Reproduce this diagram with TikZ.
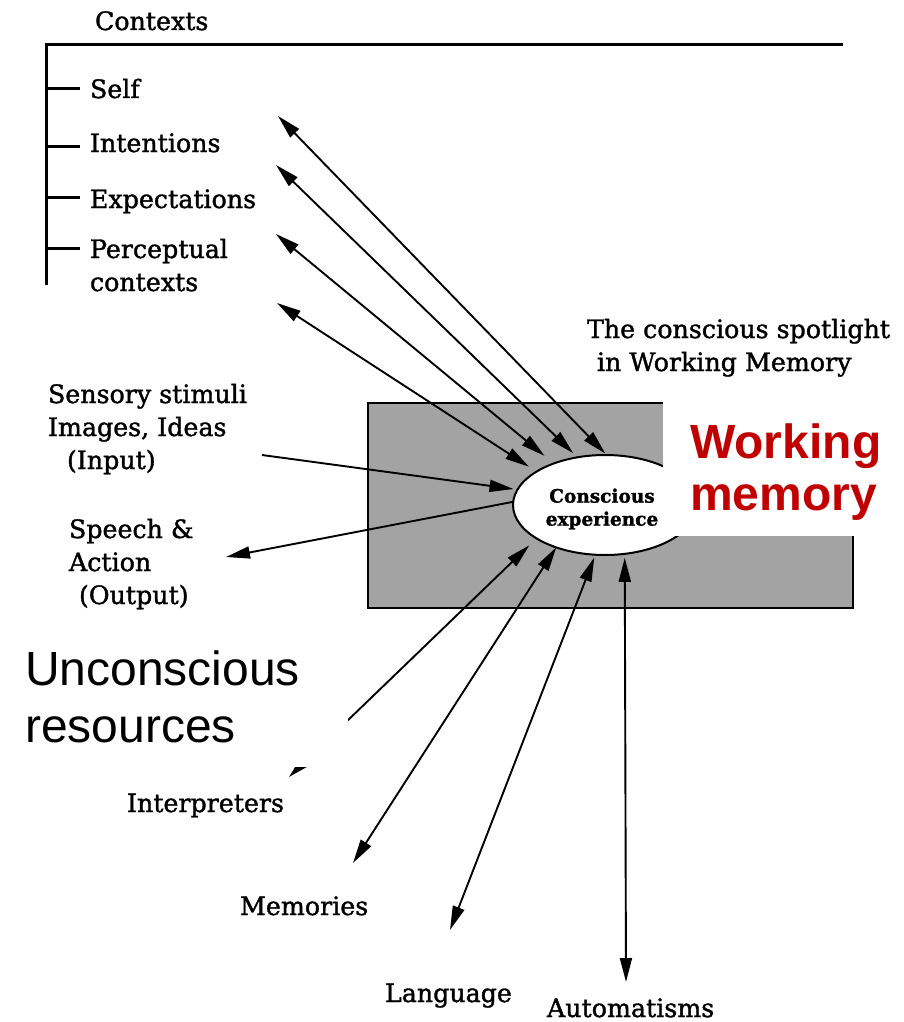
\documentclass[tikz,border=0pt]{standalone}
\usepackage{fontspec}
\setmainfont{DejaVu Serif}[FakeBold=1.4]
\newfontfamily\notesans{Liberation Sans}
\usetikzlibrary{shapes.geometric,arrows.meta}
\definecolor{wmred}{RGB}{192,0,0}
\definecolor{screen}{RGB}{163,163,163}
\newcommand{\txtrows}[1]{\begin{tabular}[t]{@{}l@{}}#1\end{tabular}}
\begin{document}
\begin{tikzpicture}[x=1pt,y=-1pt,
  >={Triangle[length=24pt,width=12pt]},
  lbl/.style={font=\fontsize{25.3}{33}\selectfont, inner sep=0pt, outer sep=0pt, anchor=base west},
  conn/.style={line width=1.9pt},
  both/.style={conn,<->},
  note/.style={font=\notesans\fontsize{48}{57}\selectfont, inner sep=0pt, anchor=base west}]
\useasboundingbox (0,0) rectangle (903,1022);
\fill[white] (0,0) rectangle (903,1022);

% working-memory screen and the spotlight of consciousness
\node[draw, fill=screen, line width=2pt, minimum width=485pt, minimum height=205pt,
      inner sep=0pt, outer sep=0pt] (wm) at (610.5,505.5) {};
\node[ellipse, draw, fill=white, line width=2pt, minimum width=184pt, minimum height=100pt,
      inner sep=0pt, outer sep=0pt] (ce) at (605,505) {};
\node[font=\bfseries\fontsize{18.5}{23}\selectfont, inner sep=0pt, align=center] (cetext) at (602,509)
  {Conscious\\experience};

% contexts bracket
\draw[line width=3pt] (46,43) -- (46,285);
\draw[line width=3pt] (44.5,45) -- (843,45);
\foreach \yy in {89,146,197,248} \draw[line width=3pt] (46,\yy) -- (80,\yy);
\node[lbl] (ctx) at (95,30) {Contexts};
\node[lbl] (self) at (90,98) {Self};
\node[lbl] (intent) at (90,152) {Intentions};
\node[lbl] (expect) at (90,208) {Expectations};
\node[lbl] (percept) at (90,258) {\txtrows{Perceptual\\contexts}};

\node[lbl] (spot) at (587,338) {\txtrows{The conscious spotlight\\\hspace*{10pt}in Working Memory}};
\node[lbl] (input) at (48,403) {\txtrows{Sensory stimuli\\Images, Ideas\\\hspace*{19pt}(Input)}};
\node[lbl] (output) at (69,538) {\txtrows{Speech \&\\Action\\\hspace*{10pt}(Output)}};
\node[lbl] (interp) at (127,812) {Interpreters};
\node[lbl] (mem) at (240,915) {Memories};
\node[lbl] (lang) at (385,1002) {Language};
\node[lbl] (auto) at (547,1017) {Automatisms};

% free ends of the connectors
\coordinate (tSelf) at (278,116);
\coordinate (tInt) at (276,165);
\coordinate (tExp) at (276,234);
\coordinate (tPer) at (277,303);
\coordinate (tIn) at (262,455);
\coordinate (tOut) at (226,557);
\coordinate (tInterp) at (289,777);
\coordinate (tMem) at (353,863);
\coordinate (tLang) at (450,930);
\coordinate (tAuto) at (626,982);

\draw[both, shorten >=2pt] (tSelf) -- (ce.88);
\draw[both, shorten >=6pt] (tInt) -- (ce.120);
\draw[both, shorten >=12pt] (tExp) -- (ce.141);
\draw[both, shorten >=9pt] (tPer) -- (ce.154);
\draw[conn, ->, shorten >=4pt] (tIn) -- (ce.170);
\draw[conn, ->] (ce.178) -- (tOut);
\draw[both, shorten <=10pt] (ce.206) -- (tInterp);
\draw[both] (ce.221) -- (tMem);
\draw[both, shorten <=3pt] (ce.259) -- (tLang);
\draw[both, shorten <=4pt] (ce.292) -- (tAuto);

% annotations laid over the figure
\fill[white] (663,396) rectangle (903,536);
\node[note, font=\notesans\bfseries\fontsize{48}{52}\selectfont, text=wmred] (wmlabel) at (690,458)
  {\txtrows{Working\\memory}};
\fill[white] (0,615) rectangle (348,767);
\node[note] (unc) at (25,685) {\txtrows{Unconscious\\resources}};
\end{tikzpicture}
\end{document}
